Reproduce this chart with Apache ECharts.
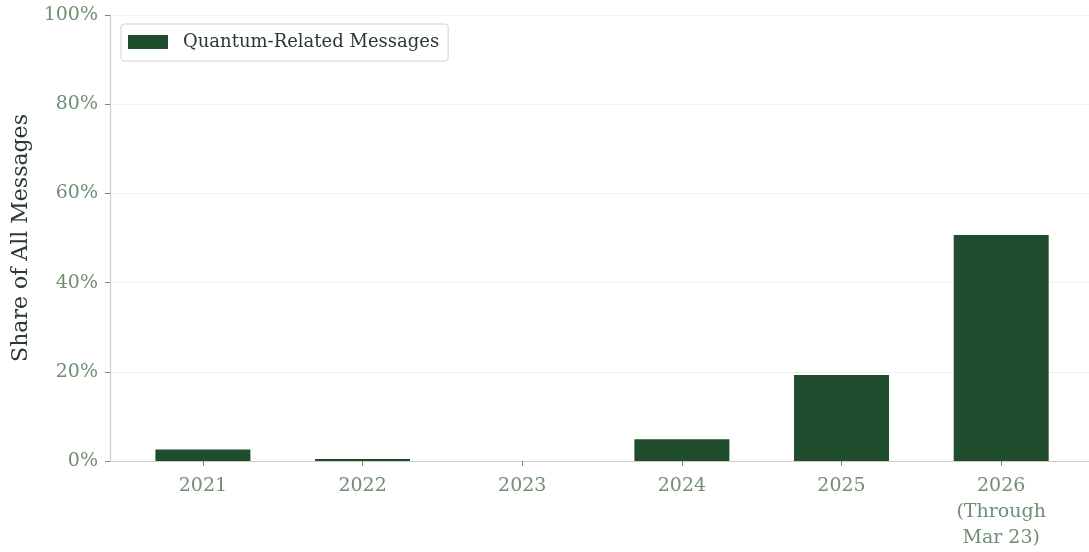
<!DOCTYPE html>
<html>
<head>
<meta charset="utf-8">
<script src="https://cdn.jsdelivr.net/npm/echarts@6/dist/echarts.min.js"></script>
<style>
  html, body { margin: 0; padding: 0; background: #fff; }
  #chart { width: 1089px; height: 552px; }
</style>
</head>
<body>
<div id="chart"></div>
<script>
const chart = echarts.init(document.getElementById("chart"));

// data
const years = ["2021", "2022", "2023", "2024", "2025", "2026\n(Through\nMar 23)"];
const share = [2.6, 0.45, 0.02, 4.9, 19.3, 50.7];
const yTicks = [0, 20, 40, 60, 80, 100];

const FONT = "DejaVu Serif";
const TICK_COLOR = "#6f8f73";
const BAR_COLOR = "#204d2d";

chart.setOption({
  animation: false,
  grid: { left: 110, right: 0, top: 15, bottom: 91 },

  legend: {
    left: 121,
    top: 24,
    padding: [9, 9, 10, 7],
    icon: "rect",
    itemWidth: 40,
    itemHeight: 14,
    borderColor: "#d2d2d2",
    borderWidth: 1,
    borderRadius: 3,
    backgroundColor: "#fff",
    textStyle: { fontFamily: FONT, fontSize: 18, color: "#2b3a2e", padding: [0, 0, 0, 10] },
    data: ["Quantum-Related Messages"]
  },

  xAxis: {
    type: "value",
    min: -0.582,
    max: 5.55,
    splitLine: { show: false },
    axisLine: { show: true, onZero: false, lineStyle: { color: "#cfcbc5", width: 1.2 } },
    axisTick: {
      show: true,
      customValues: years.map((_, i) => i),
      length: 5,
      lineStyle: { color: TICK_COLOR }
    },
    axisLabel: {
      customValues: years.map((_, i) => i),
      formatter: v => years[Math.round(v)],
      fontFamily: FONT,
      fontSize: 19,
      lineHeight: 26,
      color: TICK_COLOR,
      margin: 12
    }
  },

  yAxis: {
    type: "value",
    min: 0,
    max: 100,
    interval: 20,
    name: "Share of All Messages",
    nameLocation: "middle",
    nameGap: 78,
    nameTextStyle: { fontFamily: FONT, fontSize: 22, color: "#2b3a2e" },
    axisLine: { show: true, onZero: false, lineStyle: { color: "#cfcbc5", width: 1.2 } },
    axisTick: { show: true, length: 5, lineStyle: { color: TICK_COLOR } },
    axisLabel: {
      formatter: v => yTicks.includes(v) ? v + "%" : "",
      fontFamily: FONT,
      fontSize: 19,
      color: TICK_COLOR,
      margin: 12
    },
    splitLine: { show: true, lineStyle: { color: "#f3f1ee", width: 1 } }
  },

  series: [
    {
      name: "Quantum-Related Messages",
      type: "bar",
      barWidth: 95,
      data: share.map((v, i) => [i, v]),
      itemStyle: { color: BAR_COLOR }
    }
  ]
});
</script>
</body>
</html>
